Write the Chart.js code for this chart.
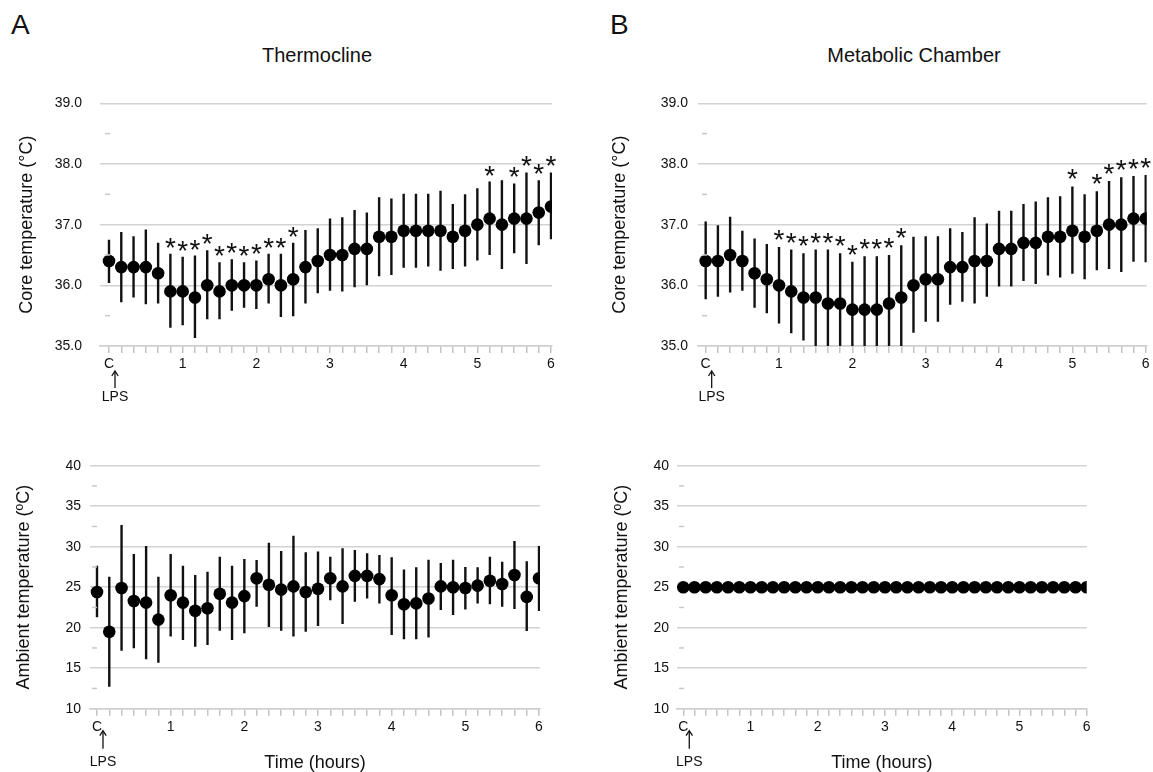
<!DOCTYPE html>
<html>
<head>
<meta charset="utf-8">
<script src="https://cdn.jsdelivr.net/npm/chart.js@4.4.1/dist/chart.umd.min.js"></script>
<style>
  html, body { margin:0; padding:0; background:#fff; overflow:hidden; width:1153px; height:772px; }
  body { position:relative; font-family:'Liberation Sans', Arial, Helvetica, sans-serif; color:#111; }
  canvas { position:absolute; }
  .lbl { position:absolute; font-family:'Liberation Sans', Arial, sans-serif; color:#111; white-space:nowrap; }
</style>
</head>
<body>
<div class="lbl" style="left:11px;top:11px;font-size:28px;line-height:28px;">A</div>
<div class="lbl" style="left:610px;top:11px;font-size:28px;line-height:28px;">B</div>
<div class="lbl" style="left:167px;top:45px;width:300px;text-align:center;font-size:20px;line-height:20px;">Thermocline</div>
<div class="lbl" style="left:764px;top:45px;width:300px;text-align:center;font-size:20px;line-height:20px;">Metabolic Chamber</div>

<canvas id="ta" width="570" height="342" style="left:0px;top:73px;"></canvas>
<canvas id="tb" width="573" height="342" style="left:580px;top:73px;"></canvas>
<canvas id="ba" width="560" height="340" style="left:0px;top:435px;"></canvas>
<canvas id="bb" width="573" height="340" style="left:580px;top:435px;"></canvas>

<script>
// ---------- DATA ----------
const minutes = [0,10,20,30,40,50,60,70,80,90,100,110,120,130,140,150,160,170,180,190,200,210,220,230,240,250,260,270,280,290,300,310,320,330,340,350,360];
const hourTicks = [0,60,120,180,240,300,360];
const hourLabels = ['C','1','2','3','4','5','6'];

const coreTicks = [35,36,37,38,39];
const coreTickLabels = ['35.0','36.0','37.0','38.0','39.0'];
const coreMinor = [35.5,36.5,37.5,38.5];
const ambTicks = [10,15,20,25,30,35,40];
const ambTickLabels = ['10','15','20','25','30','35','40'];
const ambMinor = [12.5,17.5,22.5,27.5,32.5,37.5];

// Thermocline - core temperature (mean, upper, lower)
const thermoCore = [36.4,36.3,36.3,36.3,36.2,35.9,35.9,35.8,36.0,35.9,36.0,36.0,36.0,36.1,36.0,36.1,36.3,36.4,36.5,36.5,36.6,36.6,36.8,36.8,36.9,36.9,36.9,36.9,36.8,36.9,37.0,37.1,37.0,37.1,37.1,37.2,37.3];
const thermoCoreHigh = [36.75,36.88,36.81,36.92,36.70,36.52,36.47,36.49,36.58,36.38,36.43,36.38,36.41,36.52,36.52,36.70,36.91,36.94,37.10,37.12,37.24,37.20,37.45,37.43,37.51,37.51,37.51,37.56,37.34,37.50,37.60,37.71,37.73,37.68,37.86,37.73,37.86];
const thermoCoreLow = [36.04,35.72,35.80,35.69,35.70,35.30,35.34,35.13,35.44,35.44,35.58,35.63,35.61,35.70,35.48,35.49,35.70,35.87,35.91,35.90,35.97,36.00,36.15,36.17,36.29,36.29,36.31,36.24,36.27,36.31,36.41,36.50,36.27,36.53,36.35,36.66,36.76];
const thermoCoreStars = [50,60,70,80,90,100,110,120,130,140,150,310,330,340,350,360];

// Thermocline - ambient temperature
const thermoAmb = [24.4,19.5,24.9,23.3,23.1,21.0,24.0,23.1,22.1,22.4,24.2,23.1,23.9,26.1,25.3,24.7,25.1,24.4,24.8,26.1,25.1,26.4,26.4,26.0,24.0,22.9,23.0,23.6,25.1,25.0,24.9,25.2,25.8,25.4,26.5,23.8,26.1];
const thermoAmbHigh = [27.65,26.3,32.67,29.1,30.08,26.3,29.1,27.65,26.5,26.9,28.77,27.65,28.48,28.35,30.5,29.47,31.36,29.3,29.4,28.77,29.8,29.6,29.2,28.97,28.7,27.2,27.45,28.4,28.0,28.4,27.5,27.45,28.77,28.15,30.7,28.2,30.08];
const thermoAmbLow = [21.28,12.7,17.16,17.45,16.09,15.68,18.9,18.48,17.65,17.86,19.63,18.48,19.3,22.6,20.1,19.63,18.9,19.5,20.2,23.4,20.45,23.2,23.6,23.0,19.1,18.56,18.56,18.8,22.2,21.56,22.26,23.0,22.9,22.6,22.3,19.6,22.06];

// Metabolic chamber - core temperature
const metabCore = [36.4,36.4,36.5,36.4,36.2,36.1,36.0,35.9,35.8,35.8,35.7,35.7,35.6,35.6,35.6,35.7,35.8,36.0,36.1,36.1,36.3,36.3,36.4,36.4,36.6,36.6,36.7,36.7,36.8,36.8,36.9,36.8,36.9,37.0,37.0,37.1,37.1];
const metabCoreHigh = [37.05,36.99,37.13,36.90,36.77,36.68,36.63,36.59,36.53,36.59,36.59,36.53,36.39,36.48,36.48,36.50,36.66,36.80,36.81,36.81,36.94,36.88,37.12,37.02,37.23,37.23,37.34,37.38,37.45,37.47,37.63,37.50,37.55,37.72,37.78,37.80,37.82];
const metabCoreLow = [35.77,35.81,35.88,35.91,35.63,35.54,35.37,35.21,35.09,34.9,34.9,34.9,34.9,34.9,34.9,34.9,34.9,35.22,35.40,35.40,35.68,35.73,35.70,35.81,35.98,35.98,36.07,36.02,36.16,36.13,36.19,36.10,36.25,36.27,36.22,36.39,36.38];
const metabCoreStars = [60,70,80,90,100,110,120,130,140,150,160,300,320,330,340,350,360];

// Metabolic chamber - ambient temperature
const metabAmb = [25,25,25,25,25,25,25,25,25,25,25,25,25,25,25,25,25,25,25,25,25,25,25,25,25,25,25,25,25,25,25,25,25,25,25,25,25];

// ---------- PLUGINS ----------
const FONT = "'Liberation Sans', Arial, Helvetica, sans-serif";

const errorBarPlugin = {
  id: 'errbars',
  beforeDatasetsDraw(chart, args, opts) {
    if (!opts || !opts.high) return;
    const ctx = chart.ctx, ys = chart.scales.y, meta = chart.getDatasetMeta(0), a = chart.chartArea;
    ctx.save();
    ctx.beginPath(); ctx.rect(a.left, a.top, a.right - a.left, a.bottom - a.top); ctx.clip();
    ctx.strokeStyle = '#111'; ctx.lineWidth = 2.4;
    meta.data.forEach((pt, i) => {
      ctx.beginPath();
      ctx.moveTo(pt.x, ys.getPixelForValue(opts.high[i]));
      ctx.lineTo(pt.x, ys.getPixelForValue(opts.low[i]));
      ctx.stroke();
    });
    ctx.restore();
  },
  afterDatasetsDraw(chart, args, opts) {
    if (!opts || !opts.stars) return;
    const ctx = chart.ctx, ys = chart.scales.y, xs = chart.scales.x;
    ctx.save();
    ctx.fillStyle = '#111';
    ctx.font = '28px ' + FONT;
    ctx.textAlign = 'center';
    ctx.textBaseline = 'alphabetic';
    opts.stars.forEach(m => {
      const i = minutes.indexOf(m);
      const x = xs.getPixelForValue(m);
      const yTop = ys.getPixelForValue(opts.high[i]);
      const cy = yTop - opts.starGap;
      ctx.fillText('*', x, cy + 13);
    });
    ctx.restore();
  }
};

const decoPlugin = {
  id: 'deco',
  afterDraw(chart, args, opts) {
    const ctx = chart.ctx, ys = chart.scales.y, xs = chart.scales.x, a = chart.chartArea;
    ctx.save();
    // minor y dashes
    ctx.strokeStyle = '#c8c8c8'; ctx.lineWidth = 1.5;
    (opts.minor || []).forEach(v => {
      const y = ys.getPixelForValue(v);
      ctx.beginPath(); ctx.moveTo(a.left + opts.dashStart, y); ctx.lineTo(a.left + opts.dashStart + 5, y); ctx.stroke();
    });
    // LPS arrow
    const x = xs.getPixelForValue(0) + 6;
    const y1 = a.bottom + opts.arrowTop, y2 = a.bottom + opts.arrowBottom;
    ctx.strokeStyle = '#111'; ctx.lineWidth = 1.3;
    ctx.beginPath(); ctx.moveTo(x, y1 + 1); ctx.lineTo(x, y2); ctx.stroke();
    ctx.beginPath(); ctx.moveTo(x - 3.2, y1 + 5); ctx.lineTo(x, y1); ctx.lineTo(x + 3.2, y1 + 5); ctx.stroke();
    ctx.fillStyle = '#111';
    ctx.font = '14px ' + FONT;
    ctx.textAlign = 'center'; ctx.textBaseline = 'middle';
    ctx.fillText('LPS', x, a.bottom + opts.lpsY);
    ctx.restore();
  }
};

Chart.register(errorBarPlugin, decoPlugin);

function labelFor(values, labels, v) {
  const i = values.findIndex(t => Math.abs(t - v) < 1e-6);
  return i >= 0 ? labels[i] : '';
}

function makePanel(id, p) {
  const pts = minutes.map((m, i) => ({x: m, y: p.values[i]}));
  return new Chart(document.getElementById(id), {
    type: 'scatter',
    data: { datasets: [{ data: pts, pointRadius: 6.3, pointHoverRadius: 6.3, backgroundColor: '#000', borderWidth: 0, showLine: false }] },
    options: {
      responsive: false, animation: false, events: [],
      layout: { padding: { top: p.padTop, right: p.padRight, left: 0, bottom: p.padBottom } },
      plugins: {
        legend: { display: false }, tooltip: { enabled: false }, title: { display: false },
        errbars: { high: p.high, low: p.low, stars: p.stars, starGap: p.starGap },
        deco: { minor: p.minor, dashStart: p.dashStart, arrowTop: p.arrowTop, arrowBottom: p.arrowBottom, lpsY: p.lpsY }
      },
      scales: {
        x: {
          type: 'linear', min: p.xmin, max: p.xmax,
          afterBuildTicks: s => { s.ticks = minutes.map(v => ({value: v})); },
          afterFit: s => { s.height = p.xHeight; },
          ticks: { autoSkip: false, maxRotation: 0, minRotation: 0, padding: 3, color: '#111',
                   font: { family: FONT, size: 14 },
                   callback: v => labelFor(hourTicks, hourLabels, v) },
          grid: { drawOnChartArea: false, drawTicks: true, tickLength: 7, color: '#c4c4c4', lineWidth: 1.5 },
          border: { display: true, color: '#cfcfcf', width: 1.5 },
          title: p.xTitle ? { display: true, text: p.xTitle, color: '#111', font: { family: FONT, size: 18 }, padding: { top: 0, bottom: 0 } } : { display: false }
        },
        y: {
          type: 'linear', min: p.ymin, max: p.ymax,
          afterBuildTicks: s => { s.ticks = p.yTicks.map(v => ({value: v})); },
          afterFit: s => { s.width = p.yWidth; },
          ticks: { padding: p.yPad, color: '#111', font: { family: FONT, size: 14 },
                   callback: v => labelFor(p.yTicks, p.yLabels, v) },
          grid: { drawTicks: false, color: '#d2d2d2', lineWidth: 1.5 },
          border: { display: false },
          title: { display: true, text: p.yTitle, color: '#111', font: { family: FONT, size: 18 }, padding: { top: p.yTitlePad, bottom: 0 } }
        }
      }
    }
  });
}

makePanel('ta', {
  values: thermoCore, high: thermoCoreHigh, low: thermoCoreLow, stars: thermoCoreStars, starGap: 10,
  ymin: 35, ymax: 39, yTicks: coreTicks, yLabels: coreTickLabels, minor: coreMinor,
  xmin: -7.33, xmax: 360.8, padTop: 30.3, padRight: 18, padBottom: 0, xHeight: 69, yWidth: 100, yPad: 18,
  yTitle: 'Core temperature (°C)', yTitlePad: 16, dashStart: 5, arrowTop: 25, arrowBottom: 42, lpsY: 51
});
makePanel('tb', {
  values: metabCore, high: metabCoreHigh, low: metabCoreLow, stars: metabCoreStars, starGap: 11,
  ymin: 35, ymax: 39, yTicks: coreTicks, yLabels: coreTickLabels, minor: coreMinor,
  xmin: -6.28, xmax: 360.8, padTop: 30.3, padRight: 5, padBottom: 0, xHeight: 69, yWidth: 118, yPad: 10,
  yTitle: 'Core temperature (°C)', yTitlePad: 29, dashStart: 4, arrowTop: 25, arrowBottom: 42, lpsY: 51.5
});
makePanel('ba', {
  values: thermoAmb, high: thermoAmbHigh, low: thermoAmbLow, stars: null, starGap: 10,
  ymin: 10, ymax: 40, yTicks: ambTicks, yLabels: ambTickLabels, minor: ambMinor,
  xmin: -5.7, xmax: 360.8, padTop: 30.7, padRight: 20, padBottom: 1, xHeight: 65.3, yWidth: 90, yPad: 9,
  yTitle: 'Ambient temperature (ºC)', yTitlePad: 13, xTitle: 'Time (hours)',
  dashStart: 2, arrowTop: 22, arrowBottom: 40, lpsY: 53.5
});
makePanel('bb', {
  values: metabAmb, high: null, low: null, stars: null, starGap: 10,
  ymin: 10, ymax: 40, yTicks: ambTicks, yLabels: ambTickLabels, minor: ambMinor,
  xmin: -5.6, xmax: 360, padTop: 30.7, padRight: 66.3, padBottom: 1, xHeight: 65.3, yWidth: 97, yPad: 8,
  yTitle: 'Ambient temperature (ºC)', yTitlePad: 31, xTitle: 'Time (hours)',
  dashStart: 2, arrowTop: 22, arrowBottom: 40, lpsY: 53
});
</script>
</body>
</html>
